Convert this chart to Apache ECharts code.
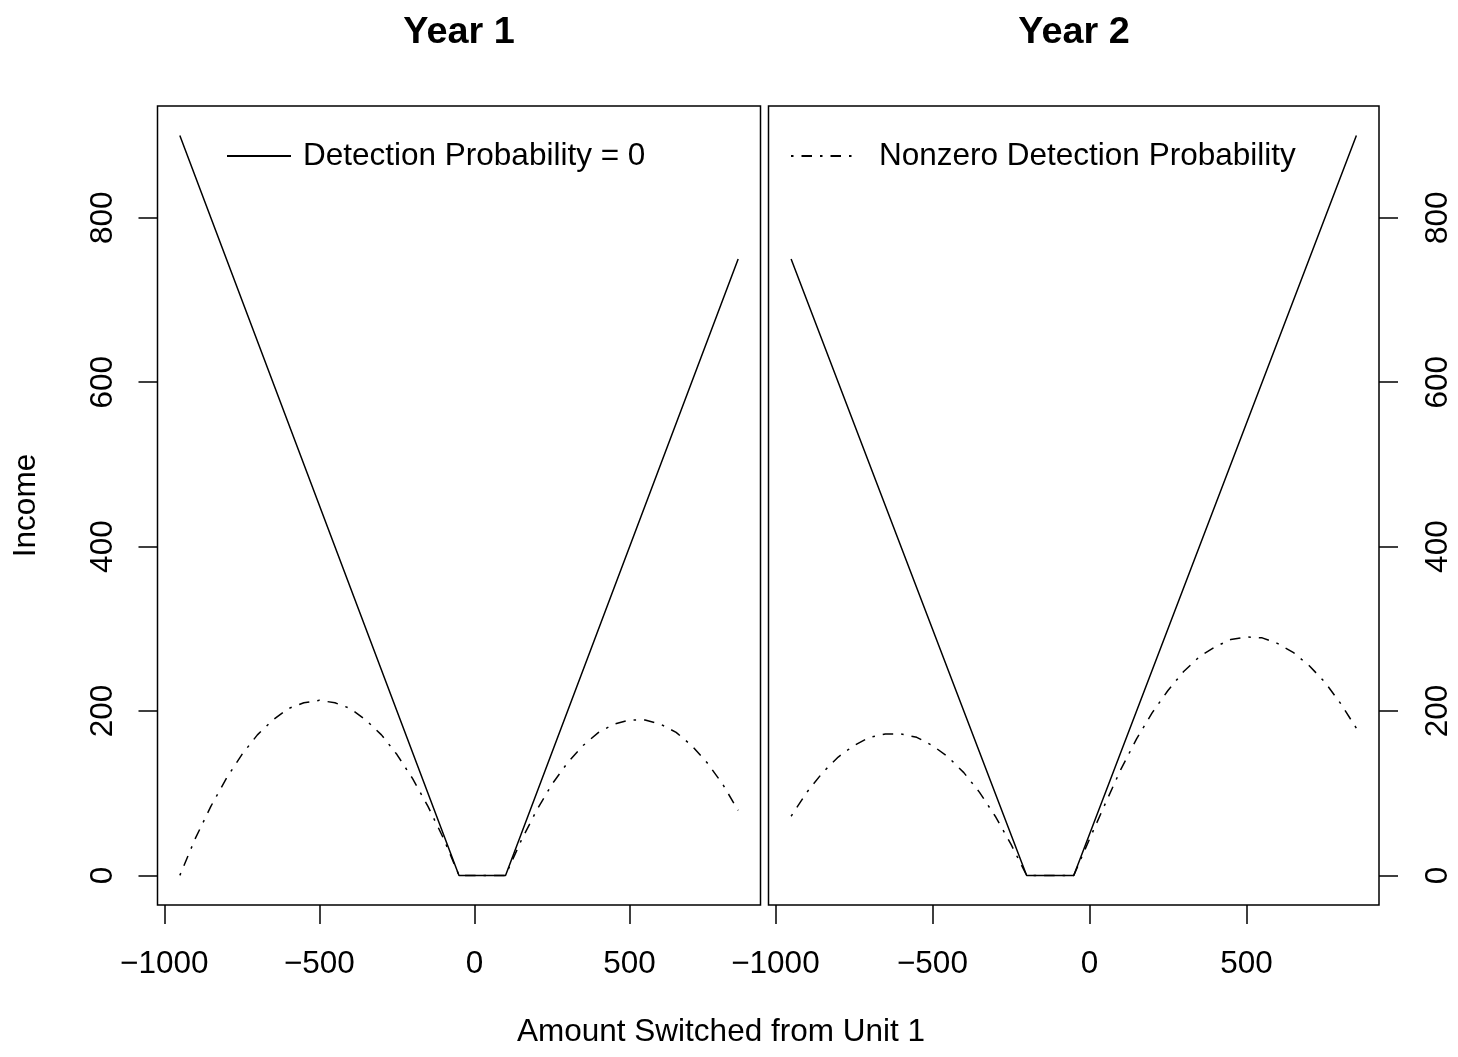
<!DOCTYPE html>
<html>
<head>
<meta charset="utf-8">
<title>Income vs Amount Switched</title>
<script src="https://cdn.jsdelivr.net/npm/echarts@6/dist/echarts.min.js"></script>
<style>
  html, body { margin: 0; padding: 0; background: #fff; }
  #chart { width: 1458px; height: 1057px; }
</style>
</head>
<body>
<div id="chart"></div>
<script>
// panel titles and tick labels
var panelTitles = ['Year 1', 'Year 2']
var xTicks = [-1000, -500, 0, 500]
var yTicks = [0, 200, 400, 600, 800]

// Year 1, detection probability = 0 (solid)
var y1SolidX = [-950, -50, 100, 850]
var y1SolidY = [900, 0, 0, 750]
// Year 1, nonzero detection probability (dot-dash)
var y1DashX = [-950, -900, -850, -800, -750, -700, -650, -600, -550, -500, -450, -400, -350, -300, -250, -200, -150, -100, -50,
               0, 50, 100, 150, 200, 250, 300, 350, 400, 450, 500, 550, 600, 650, 700, 750, 800, 850]
var y1DashY = [0, 45, 84, 118, 147, 171, 189, 203, 210, 213, 210, 203, 189, 171, 147, 118, 84, 45, 0,
               0, 0, 0, 42, 79, 111, 137, 158, 174, 184, 189, 189, 184, 174, 158, 137, 111, 79]

// Year 2, detection probability = 0 (solid)
var y2SolidX = [-950, -200, -50, 850]
var y2SolidY = [750, 0, 0, 900]
// Year 2, nonzero detection probability (dot-dash)
var y2DashX = [-950, -900, -850, -800, -750, -700, -650, -600, -550, -500, -450, -400, -350, -300, -250, -200,
               -150, -100, -50, 0, 50, 100, 150, 200, 250, 300, 350, 400, 450, 500, 550, 600, 650, 700, 750, 800, 850]
var y2DashY = [72, 101, 125, 144, 158, 168, 172, 172, 168, 158, 144, 125, 101, 72, 38, 0,
               0, 0, 0, 44, 87, 129, 166, 198, 225, 248, 266, 278, 287, 290, 289, 282, 271, 255, 235, 209, 179]

var SOLID = 'Detection Probability = 0'
var DASH = 'Nonzero Detection Probability'
var FONT = 'Liberation Sans'
var FS = 31.5

function pairs(xs, ys) {
  return xs.map(function (x, i) { return [x, ys[i]] })
}

function minusFmt(v) {
  return v < 0 ? '\u2212' + Math.abs(v) : String(v)
}

function xAxisFor(gridIndex) {
  return {
    type: 'value',
    gridIndex: gridIndex,
    position: 'bottom',
    min: -1022,
    max: 922,
    axisLine: { show: false, onZero: false },
    splitLine: { show: false },
    axisTick: {
      show: true,
      length: 19,
      customValues: xTicks,
      lineStyle: { color: '#000', width: 1.5 }
    },
    axisLabel: {
      customValues: xTicks,
      formatter: minusFmt,
      margin: 43,
      color: '#000',
      fontFamily: FONT,
      fontSize: FS
    }
  }
}

function yAxisFor(gridIndex, position, margin) {
  return {
    type: 'value',
    gridIndex: gridIndex,
    position: position,
    min: -36,
    max: 936,
    axisLine: { show: false, onZero: false },
    splitLine: { show: false },
    axisTick: {
      show: true,
      length: 19,
      customValues: yTicks,
      lineStyle: { color: '#000', width: 1.5 }
    },
    axisLabel: {
      customValues: yTicks,
      rotate: 90,
      margin: margin,
      color: '#000',
      fontFamily: FONT,
      fontSize: FS
    }
  }
}

function lineSeries(name, idx, data, dashed) {
  return {
    name: name,
    type: 'line',
    xAxisIndex: idx,
    yAxisIndex: idx,
    data: data,
    symbol: 'none',
    silent: true,
    lineStyle: {
      color: '#000',
      width: 1.5,
      type: dashed ? [2.5, 8, 10.5, 8] : 'solid',
      cap: 'butt'
    },
    itemStyle: { color: '#000' }
  }
}

var chart = echarts.init(document.getElementById('chart'), null, { renderer: 'canvas' })

var left = yAxisFor(0, 'left', 38)
left.name = 'Income'
left.nameLocation = 'middle'
left.nameRotate = 90
left.nameGap = 115
left.nameMoveOverlap = false
left.nameTextStyle = { color: '#000', fontFamily: FONT, fontSize: FS }

chart.setOption({
  animation: false,
  backgroundColor: '#fff',
  title: [
    {
      text: panelTitles[0], left: 459, top: 14, padding: 0, textAlign: 'center',
      textStyle: { fontFamily: FONT, fontSize: 37.8, fontWeight: 'bold', color: '#000' }
    },
    {
      text: panelTitles[1], left: 1074, top: 14, padding: 0, textAlign: 'center',
      textStyle: { fontFamily: FONT, fontSize: 37.8, fontWeight: 'bold', color: '#000' }
    },
    {
      text: 'Amount Switched from Unit 1', left: 721, top: 1016, padding: 0, textAlign: 'center',
      textStyle: { fontFamily: FONT, fontSize: FS, fontWeight: 'normal', color: '#000' }
    }
  ],
  legend: [
    {
      data: [SOLID],
      left: 226, top: 140, padding: 0,
      itemWidth: 64, itemHeight: 14,
      selectedMode: false,
      itemStyle: { opacity: 0 },
      textStyle: { fontFamily: FONT, fontSize: FS, color: '#000', padding: [0, 0, 0, 7] }
    },
    {
      data: [DASH],
      left: 790, top: 140, padding: 0,
      itemWidth: 64, itemHeight: 14,
      selectedMode: false,
      itemStyle: { opacity: 0 },
      textStyle: { fontFamily: FONT, fontSize: FS, color: '#000', padding: [0, 0, 0, 19] }
    }
  ],
  grid: [
    { left: 157.5, top: 106, width: 603, height: 799, show: true, borderColor: '#000', borderWidth: 1.5,
      backgroundColor: 'transparent', containLabel: false, outerBoundsMode: 'none' },
    { left: 768.5, top: 106, width: 610.5, height: 799, show: true, borderColor: '#000', borderWidth: 1.5,
      backgroundColor: 'transparent', containLabel: false, outerBoundsMode: 'none' }
  ],
  xAxis: [xAxisFor(0), xAxisFor(1)],
  yAxis: [left, yAxisFor(1, 'right', 43)],
  series: [
    lineSeries(SOLID, 0, pairs(y1SolidX, y1SolidY), false),
    lineSeries(DASH, 0, pairs(y1DashX, y1DashY), true),
    lineSeries(SOLID, 1, pairs(y2SolidX, y2SolidY), false),
    lineSeries(DASH, 1, pairs(y2DashX, y2DashY), true)
  ]
})
</script>
</body>
</html>
